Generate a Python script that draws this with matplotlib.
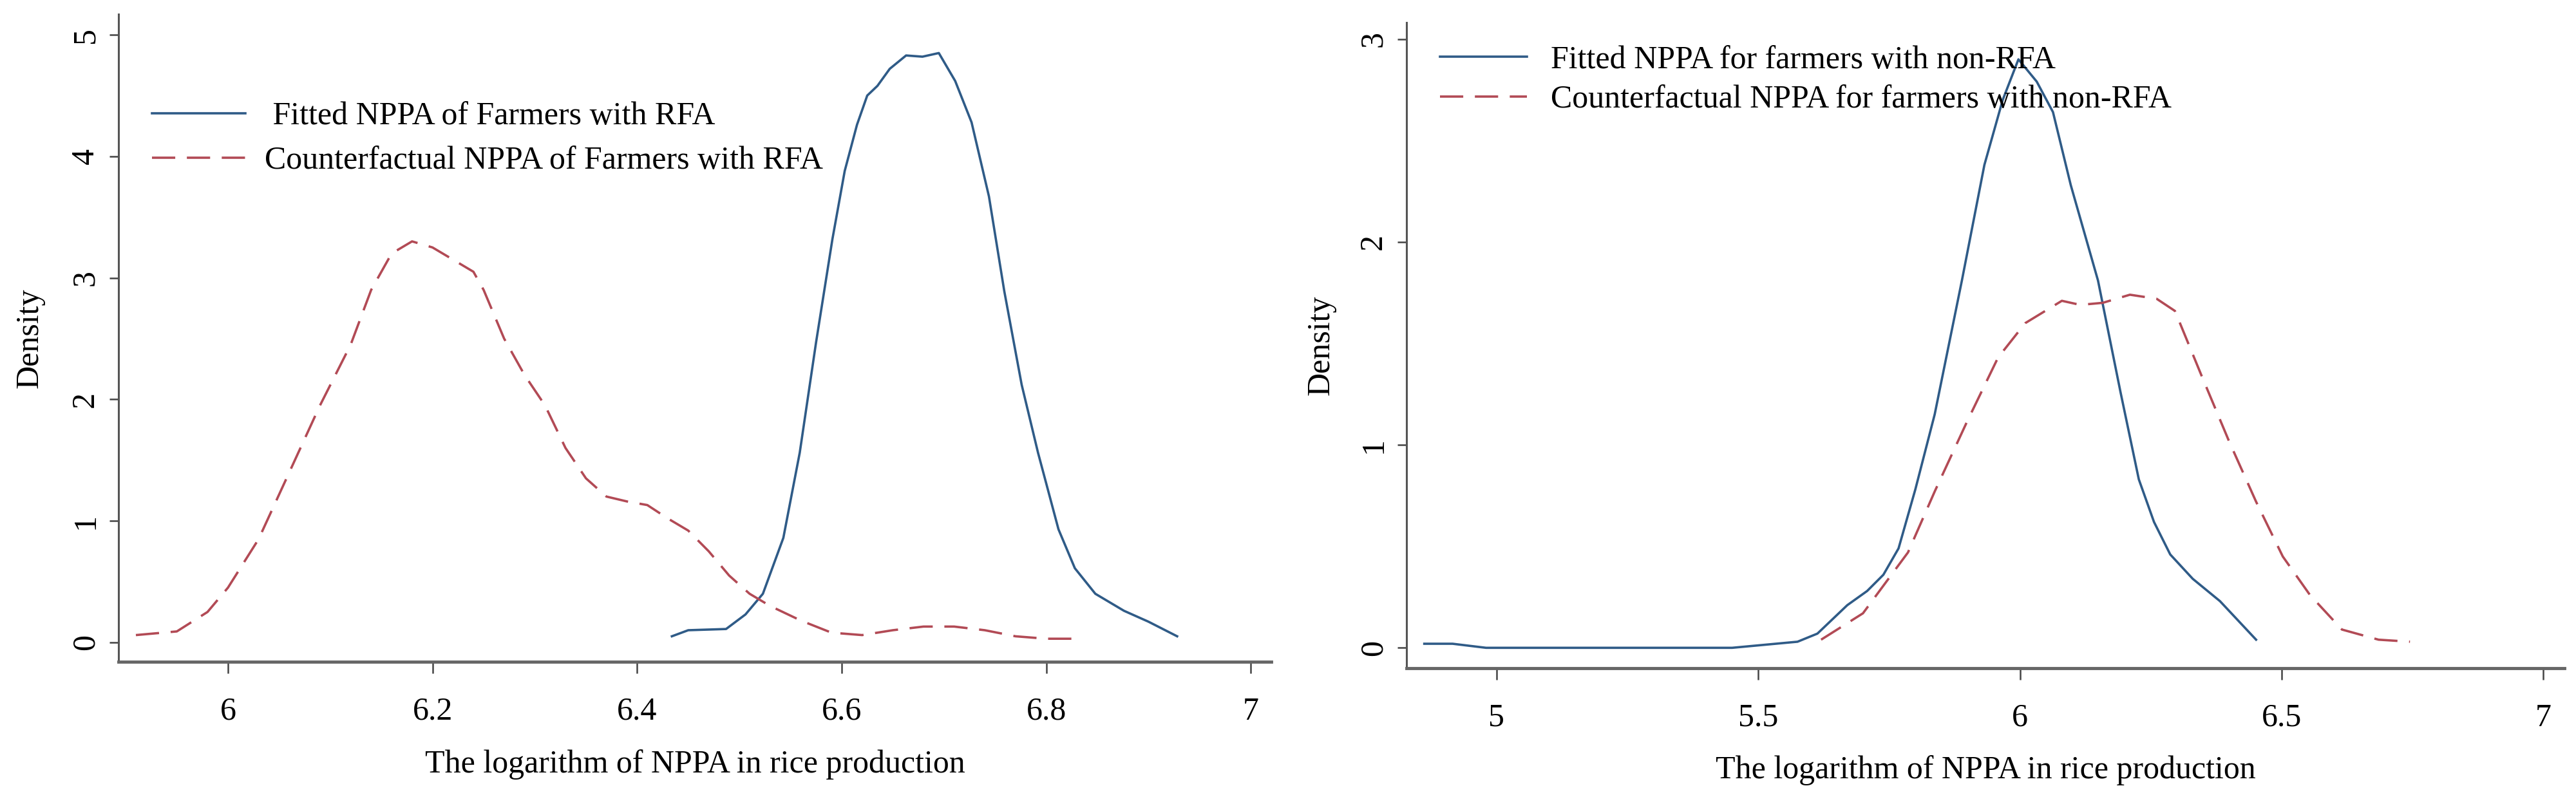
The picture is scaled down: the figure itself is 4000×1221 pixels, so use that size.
import numpy as np
import matplotlib
matplotlib.use("Agg")
import matplotlib.pyplot as plt

plt.rcParams['font.family'] = ['Liberation Serif', 'DejaVu Serif']

# ===== left panel: farmers with RFA =====
rfa_fit_x = [6.434, 6.450, 6.487, 6.506, 6.523, 6.543, 6.559, 6.575, 6.591, 6.603,
             6.615, 6.625, 6.635, 6.647, 6.663, 6.679, 6.695, 6.711, 6.727, 6.744,
             6.759, 6.776, 6.792, 6.812, 6.828, 6.848, 6.876, 6.900, 6.928]
rfa_fit_y = [0.05, 0.10, 0.11, 0.23, 0.40, 0.86, 1.56, 2.47, 3.32, 3.88,
             4.26, 4.50, 4.58, 4.72, 4.83, 4.82, 4.85, 4.62, 4.28, 3.67,
             2.89, 2.12, 1.56, 0.93, 0.61, 0.40, 0.26, 0.17, 0.05]

rfa_cf_x = [5.91, 5.95, 5.98, 6.00, 6.03, 6.06, 6.09, 6.12, 6.14, 6.16,
            6.18, 6.20, 6.22, 6.24, 6.25, 6.27, 6.29, 6.31, 6.33, 6.35,
            6.37, 6.39, 6.41, 6.43, 6.45, 6.47, 6.49, 6.51, 6.53, 6.56,
            6.59, 6.62, 6.65, 6.68, 6.71, 6.74, 6.77, 6.80, 6.83]
rfa_cf_y = [0.06, 0.09, 0.25, 0.45, 0.85, 1.40, 1.95, 2.45, 2.90, 3.20,
            3.30, 3.25, 3.15, 3.05, 2.90, 2.50, 2.20, 1.95, 1.60, 1.35,
            1.20, 1.16, 1.13, 1.02, 0.92, 0.75, 0.55, 0.40, 0.30, 0.18,
            0.08, 0.06, 0.10, 0.13, 0.13, 0.10, 0.05, 0.03, 0.03]

# ===== right panel: farmers with non-RFA =====
non_fit_x = [4.862, 4.916, 4.980, 5.10, 5.25, 5.45, 5.575, 5.613, 5.67, 5.708,
             5.739, 5.768, 5.80, 5.837, 5.889, 5.932, 5.967, 5.997, 6.032, 6.063,
             6.097, 6.149, 6.192, 6.227, 6.256, 6.287, 6.33, 6.382, 6.451]
non_fit_y = [0.02, 0.02, 0.00, 0.00, 0.00, 0.00, 0.03, 0.07, 0.21, 0.28,
             0.36, 0.49, 0.78, 1.15, 1.81, 2.38, 2.70, 2.90, 2.79, 2.64,
             2.28, 1.81, 1.26, 0.83, 0.62, 0.46, 0.34, 0.23, 0.04]

non_cf_x = [5.62, 5.70, 5.786, 5.837, 5.898, 5.958, 6.010, 6.080, 6.115, 6.158,
            6.21, 6.261, 6.296, 6.347, 6.399, 6.451, 6.502, 6.554, 6.615, 6.685, 6.745]
non_cf_y = [0.04, 0.17, 0.47, 0.77, 1.11, 1.43, 1.60, 1.71, 1.69, 1.70,
            1.74, 1.72, 1.66, 1.34, 1.02, 0.72, 0.45, 0.26, 0.09, 0.04, 0.03]

xlabel = 'The logarithm of NPPA in rice production'

blue = '#2f5b87'
red = '#b24a55'
fs = 36

fig = plt.figure(figsize=(40, 12.21), dpi=100)
ax1 = fig.add_axes([0.046, 0.158, 0.4475, 0.824])
ax2 = fig.add_axes([0.546, 0.150, 0.4495, 0.821])


def style(ax, ylo, yhi, xlo, xhi, xticks, yticks, xlbl_y, ylbl_x, xtl):
    ax.set_xlim(xlo, xhi)
    ax.set_ylim(ylo, yhi)
    ax.set_xticks(xticks)
    ax.set_xticklabels(xtl)
    ax.set_yticks(yticks)
    ax.set_yticklabels([str(v) for v in yticks], rotation=90, va='center')
    for s in ['top', 'right']:
        ax.spines[s].set_visible(False)
    ax.spines['left'].set_color('#555555')
    ax.spines['left'].set_linewidth(2.2)
    ax.spines['bottom'].set_color('#666666')
    ax.spines['bottom'].set_linewidth(3.5)
    ax.tick_params(axis='x', length=13, width=1.8, color='#444444', pad=26, labelsize=fs)
    ax.tick_params(axis='y', length=10, width=1.8, color='#444444', pad=10, labelsize=fs)
    ax.set_xlabel(xlabel, fontsize=fs)
    ax.set_ylabel('Density', fontsize=fs)
    ax.xaxis.set_label_coords(0.5, xlbl_y)
    ax.yaxis.set_label_coords(ylbl_x, 0.5)


ax1.plot(rfa_fit_x, rfa_fit_y, color=blue, lw=2.6, label=' Fitted NPPA of Farmers with RFA')
ax1.plot(rfa_cf_x, rfa_cf_y, color=red, lw=2.6, dashes=(10, 5),
         label='Counterfactual NPPA of Farmers with RFA')
style(ax1, -0.16, 5.17, 5.893, 7.02, [6, 6.2, 6.4, 6.6, 6.8, 7], [0, 1, 2, 3, 4, 5],
      -0.135, -0.064, ['6', '6.2', '6.4', '6.6', '6.8', '7'])
ax1.legend(loc='upper left', bbox_to_anchor=(0.015, 0.89), frameon=False, fontsize=fs,
           handlelength=2.9, handletextpad=0.6, labelspacing=0.45, borderpad=0)

ax2.plot(non_fit_x, non_fit_y, color=blue, lw=2.6, label='Fitted NPPA for farmers with non-RFA')
ax2.plot(non_cf_x, non_cf_y, color=red, lw=2.6, dashes=(10, 5),
         label='Counterfactual NPPA for farmers with non-RFA')
style(ax2, -0.1, 3.08, 4.828, 7.04, [5, 5.5, 6, 6.5, 7], [0, 1, 2, 3],
      -0.135, -0.061, ['5', '5.5', '6', '6.5', '7'])
ax2.legend(loc='upper left', bbox_to_anchor=(0.015, 0.99), frameon=False, fontsize=fs,
           handlelength=2.7, handletextpad=0.75, labelspacing=0.3, borderpad=0)

fig.savefig('out.png', dpi=100, facecolor='white')
